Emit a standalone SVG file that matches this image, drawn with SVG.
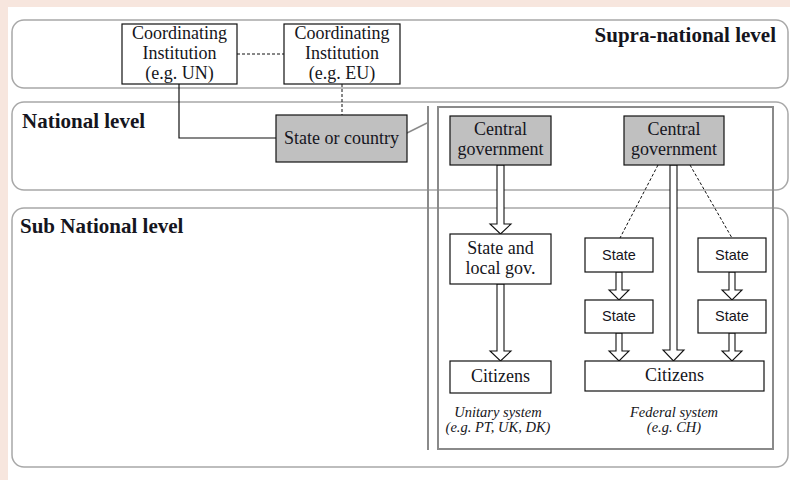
<svg xmlns="http://www.w3.org/2000/svg" width="790" height="480" viewBox="0 0 790 480">
<style>
.panel{fill:#fff;stroke:#a8a8a8;stroke-width:1.5}
.box{fill:#fff;stroke:#111;stroke-width:1.2}
.gbox{fill:#c0c0c0;stroke:#111;stroke-width:1.2}
.t{font-family:"Liberation Serif","Times New Roman",serif;font-size:18px;fill:#151520;text-anchor:middle}
.ts{font-family:"Liberation Sans",Arial,sans-serif;font-size:14.5px;fill:#151520;text-anchor:middle}
.h{font-family:"Liberation Serif","Times New Roman",serif;font-size:21px;font-weight:bold;fill:#151520}
.cap{font-family:"Liberation Serif","Times New Roman",serif;font-size:14.5px;font-style:italic;fill:#151520;text-anchor:middle}
.ln{fill:none;stroke:#111;stroke-width:1.2}
.dash{fill:none;stroke:#111;stroke-width:1;stroke-dasharray:3,2}
.arr{fill:#fff;stroke:#111;stroke-width:1.1;stroke-linejoin:miter}
.frame{fill:none;stroke:#8a8a8a;stroke-width:2}
</style>
<rect x="0" y="0" width="790" height="480" fill="#f7e6de"/>
<rect x="8" y="7" width="782" height="473" fill="#fff"/>
<g id="levels">
<rect class="panel" x="12" y="20" width="776" height="68" rx="12"/>
<rect class="panel" x="12" y="102" width="776" height="88" rx="12"/>
<rect class="panel" x="12" y="208" width="776" height="259" rx="12"/>
<text class="h" x="776" y="42" text-anchor="end" font-size="20">Supra-national level</text>
<text class="h" x="22" y="128">National level</text>
<text class="h" x="20" y="233">Sub National level</text>
</g>
<g id="frame">
<line class="frame" x1="428" y1="106" x2="428" y2="450"/>
<rect class="frame" x="438" y="107" width="335" height="342"/>
<line x1="407" y1="133" x2="427" y2="123" stroke="#8a8a8a" stroke-width="1.5"/>
</g>
<g id="connectors">
<line class="dash" x1="237" y1="54" x2="284" y2="54"/>
<line class="dash" x1="342" y1="84" x2="342" y2="115"/>
<polyline class="ln" points="179,84 179,138 276,138"/>
<line class="dash" x1="658" y1="165" x2="620" y2="238"/>
<line class="dash" x1="690" y1="165" x2="732" y2="238"/>
<polygon class="arr" points="497,165 504,165 504,224 511,224 500.5,234 490,224 497,224"/>
<polygon class="arr" points="497,284 504,284 504,351 511,351 500.5,361 490,351 497,351"/>
<polygon class="arr" points="670,165 677,165 677,350 684,350 673.5,361 663,350 670,350"/>
<polygon class="arr" points="616,272 622,272 622,290 629,290 619,300 609,290 616,290"/>
<polygon class="arr" points="616,333 622,333 622,351 629,351 619,361 609,351 616,351"/>
<polygon class="arr" points="729,272 735,272 735,290 742,290 732,300 722,290 729,290"/>
<polygon class="arr" points="729,333 735,333 735,351 742,351 732,361 722,351 729,351"/>
</g>
<g id="coord-un">
<rect class="box" x="122" y="24" width="115" height="60"/>
<text class="t" x="179.5" y="39">Coordinating</text>
<text class="t" x="179.5" y="59">Institution</text>
<text class="t" x="179.5" y="79">(e.g. UN)</text>
</g>
<g id="coord-eu">
<rect class="box" x="284" y="24" width="116" height="60"/>
<text class="t" x="342" y="39">Coordinating</text>
<text class="t" x="342" y="59">Institution</text>
<text class="t" x="342" y="79">(e.g. EU)</text>
</g>
<g id="state-country">
<rect class="gbox" x="276" y="115" width="131" height="47"/>
<text class="t" x="341.5" y="144">State or country</text>
</g>
<g id="central-unitary">
<rect class="gbox" x="450" y="116" width="101" height="49"/>
<text class="t" x="500.5" y="135">Central</text>
<text class="t" x="500.5" y="155">government</text>
</g>
<g id="central-federal">
<rect class="gbox" x="624" y="116" width="100" height="49"/>
<text class="t" x="674" y="135">Central</text>
<text class="t" x="674" y="155">government</text>
</g>
<g id="state-local">
<rect class="box" x="450" y="234" width="101" height="50"/>
<text class="t" x="500.5" y="254">State and</text>
<text class="t" x="500.5" y="274">local gov.</text>
</g>
<g id="state-l1">
<rect class="box" x="585" y="238" width="68" height="34"/>
<text class="ts" x="619" y="260">State</text>
</g>
<g id="state-r1">
<rect class="box" x="698" y="238" width="68" height="34"/>
<text class="ts" x="732" y="260">State</text>
</g>
<g id="state-l2">
<rect class="box" x="585" y="300" width="68" height="33"/>
<text class="ts" x="619" y="321">State</text>
</g>
<g id="state-r2">
<rect class="box" x="698" y="300" width="68" height="33"/>
<text class="ts" x="732" y="321">State</text>
</g>
<g id="citizens-unitary">
<rect class="box" x="450" y="361" width="101" height="32"/>
<text class="t" x="500.5" y="382">Citizens</text>
</g>
<g id="citizens-federal">
<rect class="box" x="585" y="361" width="179" height="30"/>
<text class="t" x="674.5" y="381">Citizens</text>
</g>
<g id="captions">
<text class="cap" x="498" y="417">Unitary system</text>
<text class="cap" x="498" y="432">(e.g. PT, UK, DK)</text>
<text class="cap" x="674" y="417">Federal system</text>
<text class="cap" x="674" y="432">(e.g. CH)</text>
</g>
</svg>
